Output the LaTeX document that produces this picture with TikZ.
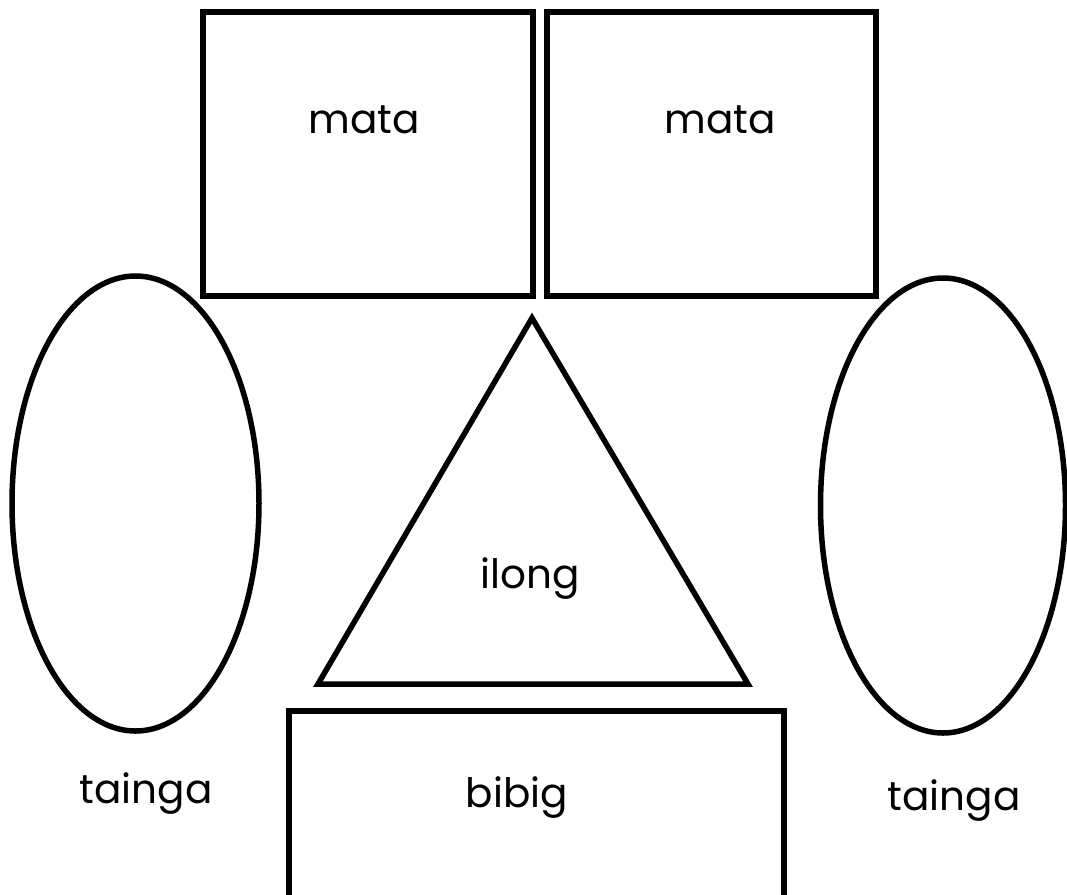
\documentclass[tikz,border=0pt]{standalone}
\usepackage{fontspec}
\setmainfont{Poppins}
\usetikzlibrary{shapes.geometric}
\tikzset{
  shapeline/.style={draw=black, line width=5.5pt, fill=none},
  box/.style={shapeline, rectangle, inner sep=0pt},
  ear/.style={shapeline, ellipse, inner sep=0pt},
  lbl/.style={font=\fontsize{40.5}{42}\selectfont, anchor=base, inner sep=0pt}
}
\begin{document}
\begin{tikzpicture}[x=1pt, y=-1pt]
\useasboundingbox (0,0) rectangle (1067,894);
% eyes
\node[box, minimum width=330pt, minimum height=284pt] (eyeL) at (368,154) {};
\node[box, minimum width=329pt, minimum height=284pt] (eyeR) at (711.5,154) {};
% ears
\node[ear, minimum width=247pt, minimum height=455pt] (earL) at (135.5,503.5) {};
\node[ear, minimum width=245pt, minimum height=455pt] (earR) at (943,505.5) {};
% nose
\coordinate (noseT) at (532,318);
\coordinate (noseL) at (318,684);
\coordinate (noseR) at (748,684);
\draw[line width=5.5pt, line join=miter] (noseT) -- (noseL) -- (noseR) -- cycle;
% mouth
\node[box, minimum width=495pt, minimum height=200pt] (mouth) at (536.5,811) {};
% labels
\node[lbl] (t1) at (364,133) {mata};
\node[lbl] (t2) at (720,133) {mata};
\node[lbl] (t3) at (530,588) {ilong};
\node[lbl] (t4) at (146,803) {tainga};
\node[lbl] (t5) at (954,810) {tainga};
\node[lbl] (t6) at (517,807) {bibig};
\end{tikzpicture}
\end{document}
